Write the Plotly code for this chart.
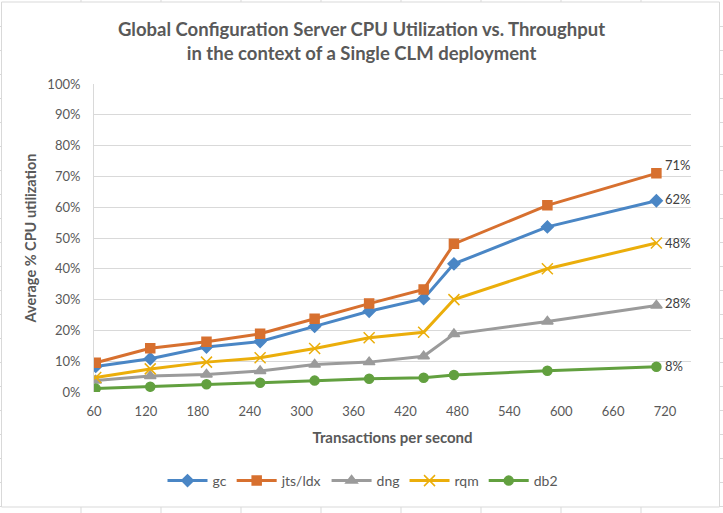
import plotly.graph_objects as go

x_tps = [62, 125, 190, 252, 315, 378, 441, 476, 584, 710]
gc = [8.3, 10.8, 14.6, 16.4, 21.3, 26.2, 30.3, 41.6, 53.6, 62.1]
jts_ldx = [9.5, 14.2, 16.3, 18.9, 23.8, 28.7, 33.3, 48.1, 60.6, 71.0]
dng = [3.7, 5.2, 5.7, 6.8, 8.9, 9.7, 11.6, 18.8, 22.9, 28.1]
rqm = [4.7, 7.5, 9.7, 11.1, 14.1, 17.6, 19.4, 30.0, 40.0, 48.4]
db2 = [1.1, 1.7, 2.5, 3.0, 3.7, 4.3, 4.6, 5.5, 6.9, 8.2]

series_names = ["gc", "jts/ldx", "dng", "rqm", "db2"]
series_values = [gc, jts_ldx, dng, rqm, db2]
end_labels = ["62%", "71%", "28%", "48%", "8%"]

x_ticks = [60, 120, 180, 240, 300, 360, 420, 480, 540, 600, 660, 720]
y_ticks = [0, 10, 20, 30, 40, 50, 60, 70, 80, 90, 100]
y_tick_text = [f"{v}%" for v in y_ticks]

colors = ["#4A86C5", "#D7702F", "#9B9B9B", "#EBAE0B", "#62A03F"]
symbols = ["diamond", "square", "triangle-up", "x-thin-open", "circle"]
sizes = [9, 9, 10, 11, 9]
label_yshift = [2, 8, 2, 0, 1]

FONT = "Lato, 'Liberation Sans', Arial, sans-serif"

fig = go.Figure()
for name, vals, c, sym, sz in zip(series_names, series_values, colors, symbols, sizes):
    fig.add_trace(go.Scatter(
        x=x_tps, y=[v / 100 for v in vals], name=name, mode="lines+markers",
        line=dict(color=c, width=3),
        marker=dict(symbol=sym, size=sz, color=c, line=dict(color=c, width=1.5)),
    ))

annotations = []
for vals, lab, ys in zip(series_values, end_labels, label_yshift):
    annotations.append(dict(
        x=x_tps[-1], y=vals[-1] / 100, xref="x", yref="y", text=lab,
        showarrow=False, xanchor="left", yanchor="middle", xshift=7, yshift=ys,
        font=dict(family=FONT, size=13, color="#404040"),
    ))

# pixel helpers for plot-area-relative paper coordinates
L, R, T, B = 94, 691, 84, 392
def px(xp):
    return (xp - L) / (R - L)
def py(yp):
    return (B - yp) / (B - T)

grid_col = "#D9D9D9"
shapes = [dict(type="rect", xref="paper", yref="paper", x0=px(1.5), x1=px(719.5),
               y0=py(2), y1=py(507), line=dict(color=grid_col, width=1), layer="below")]
for k in range(8):
    xx = 81 + 80 * k
    shapes.append(dict(type="line", xref="paper", yref="paper", x0=px(xx), x1=px(xx),
                       y0=py(0), y1=py(2), line=dict(color=grid_col, width=1)))
    shapes.append(dict(type="line", xref="paper", yref="paper", x0=px(xx), x1=px(xx),
                       y0=py(507), y1=py(513), line=dict(color=grid_col, width=1)))
for k in range(22):
    yy = 26.5 + 24 * k
    if yy > 507:
        break
    shapes.append(dict(type="line", xref="paper", yref="paper", x0=px(0), x1=px(1.5),
                       y0=py(yy), y1=py(yy), line=dict(color=grid_col, width=1)))
    shapes.append(dict(type="line", xref="paper", yref="paper", x0=px(719.5), x1=px(723),
                       y0=py(yy), y1=py(yy), line=dict(color=grid_col, width=1)))

fig.update_layout(
    width=723, height=513,
    margin=dict(l=L, r=723 - R, t=T, b=513 - B),
    paper_bgcolor="white", plot_bgcolor="white",
    font=dict(family=FONT, color="#595959"),
    title=dict(
        text="Global Configuration Server CPU Utilization vs. Throughput<br>in the context of a Single CLM deployment",
        x=0.5, xanchor="center", y=1 - 35.5 / 513, yanchor="middle",
        font=dict(family=FONT, size=18.5, color="#595959", weight="bold"),
    ),
    xaxis=dict(
        range=[60, 750], tickvals=x_ticks, ticktext=[str(v) for v in x_ticks],
        showgrid=False, zeroline=False, showline=False, ticks="",
        ticklabelstandoff=10,
        tickfont=dict(family=FONT, size=13, color="#595959"),
        title=dict(text="<b>Transactions per second</b>", standoff=14,
                   font=dict(family=FONT, size=15, color="#595959")),
    ),
    yaxis=dict(
        range=[0, 1], tickvals=[v / 100 for v in y_ticks], ticktext=y_tick_text,
        showgrid=True, gridcolor=grid_col, gridwidth=1, zeroline=False,
        showline=True, linecolor=grid_col, linewidth=1, ticks="",
        ticklabelstandoff=10,
        tickfont=dict(family=FONT, size=13, color="#595959"),
        title=dict(text="<b>Average % CPU utilization</b>", standoff=7,
                   font=dict(family=FONT, size=14.5, color="#595959")),
    ),
    legend=dict(
        orientation="h", x=px(363), xanchor="center", y=py(481), yanchor="middle",
        font=dict(family=FONT, size=14, color="#595959"), itemwidth=40,
        traceorder="normal",
    ),
    annotations=annotations,
    shapes=shapes,
)

fig.write_html("out.html", config={"displayModeBar": False},
               post_script="document.body.style.margin='0';document.body.style.padding='0';")
